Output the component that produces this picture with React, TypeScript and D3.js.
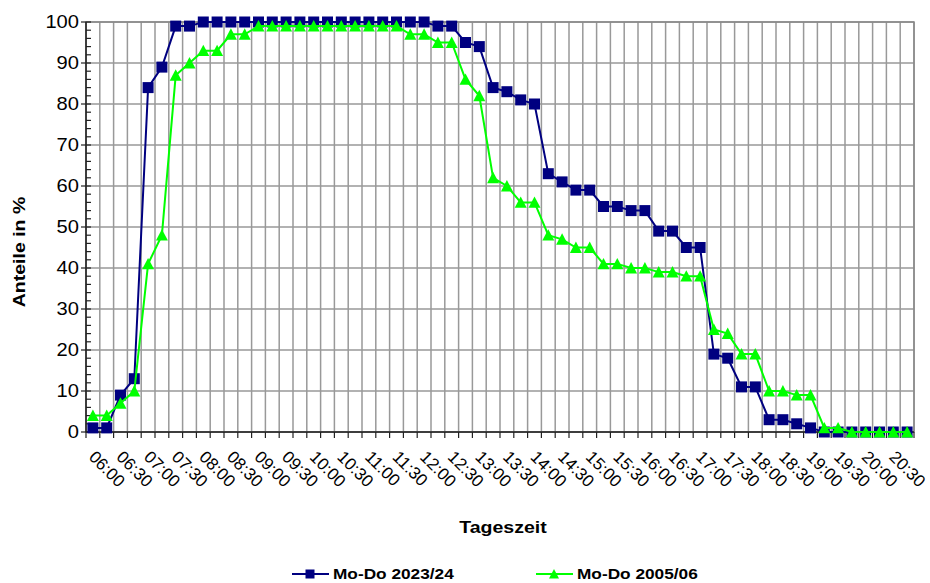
import * as React from "react"
import * as d3 from "d3"

// categories: 15-minute steps
const times = [
  "06:00", "06:15", "06:30", "06:45", "07:00", "07:15", "07:30", "07:45",
  "08:00", "08:15", "08:30", "08:45", "09:00", "09:15", "09:30", "09:45",
  "10:00", "10:15", "10:30", "10:45", "11:00", "11:15", "11:30", "11:45",
  "12:00", "12:15", "12:30", "12:45", "13:00", "13:15", "13:30", "13:45",
  "14:00", "14:15", "14:30", "14:45", "15:00", "15:15", "15:30", "15:45",
  "16:00", "16:15", "16:30", "16:45", "17:00", "17:15", "17:30", "17:45",
  "18:00", "18:15", "18:30", "18:45", "19:00", "19:15", "19:30", "19:45",
  "20:00", "20:15", "20:30", "20:45",
]

const modo2324 = [
  1, 1, 9, 13, 84, 89, 99, 99,
  100, 100, 100, 100, 100, 100, 100, 100, 100, 100, 100, 100, 100, 100, 100, 100, 100,
  99, 99, 95, 94, 84, 83, 81, 80, 63, 61, 59, 59, 55, 55, 54, 54, 49, 49, 45, 45,
  19, 18, 11, 11, 3, 3, 2, 1,
  0, 0, 0, 0, 0, 0, 0,
]

const modo0506 = [
  4, 4, 7, 10, 41, 48, 87, 90, 93, 93, 97, 97,
  99, 99, 99, 99, 99, 99, 99, 99, 99, 99, 99,
  97, 97, 95, 95, 86, 82, 62, 60, 56, 56, 48, 47, 45, 45, 41, 41, 40, 40, 39, 39, 38, 38,
  25, 24, 19, 19, 10, 10, 9, 9, 1, 1,
  0, 0, 0, 0, 0,
]

const yTicks = [0, 10, 20, 30, 40, 50, 60, 70, 80, 90, 100]
const yMinor = d3.range(0, 101, 2).filter((v) => v % 10 !== 0)
const xLabels = times.filter((t, i) => i % 2 === 0)

const seriesNames = ["Mo-Do 2023/24", "Mo-Do 2005/06"]
const blue = "#000080"
const green = "#00ff00"

const font = "Arial, 'Liberation Sans', sans-serif"
const sx = 1.15

function tri(x, y, r) {
  return `M${x - r},${y + r * 0.9}L${x + r},${y + r * 0.9}L${x},${y - r}Z`
}

export default function App() {
  const width = 930
  const height = 583
  const left = 86
  const right = 914
  const top = 22
  const bottom = 432

  const x = d3.scaleBand().domain(times).range([left, right]).paddingInner(0).paddingOuter(0)
  const y = d3.scaleLinear().domain([0, 100]).range([bottom, top])
  const cx = (t) => x(t) + x.bandwidth() / 2

  const line = d3
    .line()
    .x((d, i) => cx(times[i]))
    .y((d) => y(d))

  const boundaries = d3.range(times.length + 1).map((i) => left + i * x.step())

  return (
    <svg width={width} height={height} style={{ position: "absolute", left: 0, top: 0, background: "#fff" }}
      fontFamily={font}>
      {/* grid */}
      {boundaries.map((bx, i) => (
        <line key={"vg" + i} x1={bx} x2={bx} y1={top} y2={bottom} stroke="#999" strokeWidth={1.5} />
      ))}
      {yTicks.map((t) => (
        <line key={"hg" + t} x1={left} x2={right} y1={y(t)} y2={y(t)} stroke="#999" strokeWidth={1.5} />
      ))}
      <rect x={left} y={top} width={right - left} height={bottom - top} fill="none" stroke="#888" strokeWidth={1.5} />

      {/* axes */}
      <line x1={left} x2={left} y1={top} y2={bottom} stroke="#222" strokeWidth={1.5} />
      <line x1={left} x2={right} y1={bottom} y2={bottom} stroke="#222" strokeWidth={1.5} />
      {yTicks.map((t) => (
        <line key={"yt" + t} x1={left - 5} x2={left + 5} y1={y(t)} y2={y(t)} stroke="#222" strokeWidth={1.2} />
      ))}
      {yMinor.map((t) => (
        <line key={"ym" + t} x1={left} x2={left + 5} y1={y(t)} y2={y(t)} stroke="#222" strokeWidth={1.2} />
      ))}
      {boundaries.map((bx, i) => (
        <line key={"xt" + i} x1={bx} x2={bx} y1={bottom} y2={bottom + 6} stroke="#222" strokeWidth={1.2} />
      ))}
      {yTicks.map((t) => (
        <text key={"yl" + t} transform={`translate(${79},${y(t)}) scale(${sx},1)`} dy="0.36em"
          textAnchor="end" fontSize={17.5} fill="#000">{t}</text>
      ))}
      {xLabels.map((t) => (
        <text key={"xl" + t} transform={`translate(${cx(t) - 5},${458}) rotate(45)`}
          fontSize={17} fill="#000">{t}</text>
      ))}

      {/* series */}
      <path d={line(modo2324)} fill="none" stroke={blue} strokeWidth={2} />
      {modo2324.map((v, i) => (
        <rect key={"b" + i} x={cx(times[i]) - 5.5} y={y(v) - 5.5} width={11} height={11} fill={blue} />
      ))}
      <path d={line(modo0506)} fill="none" stroke={green} strokeWidth={2} />
      {modo0506.map((v, i) => (
        <path key={"g" + i} d={tri(cx(times[i]), y(v), 6)} fill={green} />
      ))}

      {/* titles */}
      <text transform={`translate(${25},${252}) rotate(-90) scale(${sx},1)`} textAnchor="middle"
        fontSize={17} fontWeight="bold">Anteile in %</text>
      <text transform={`translate(${503},${533}) scale(${sx},1)`} textAnchor="middle"
        fontSize={17} fontWeight="bold">Tageszeit</text>

      {/* legend */}
      <line x1={292} x2={329} y1={574} y2={574} stroke={blue} strokeWidth={2} />
      <rect x={305.5} y={569.5} width={9} height={9} fill={blue} />
      <text transform={`translate(${333},${579}) scale(${sx},1)`} fontSize={15} fontWeight="bold">{seriesNames[0]}</text>
      <line x1={536} x2={573} y1={574} y2={574} stroke={green} strokeWidth={2} />
      <path d={tri(554, 574, 5)} fill={green} />
      <text transform={`translate(${577},${579}) scale(${sx},1)`} fontSize={15} fontWeight="bold">{seriesNames[1]}</text>
    </svg>
  )
}
